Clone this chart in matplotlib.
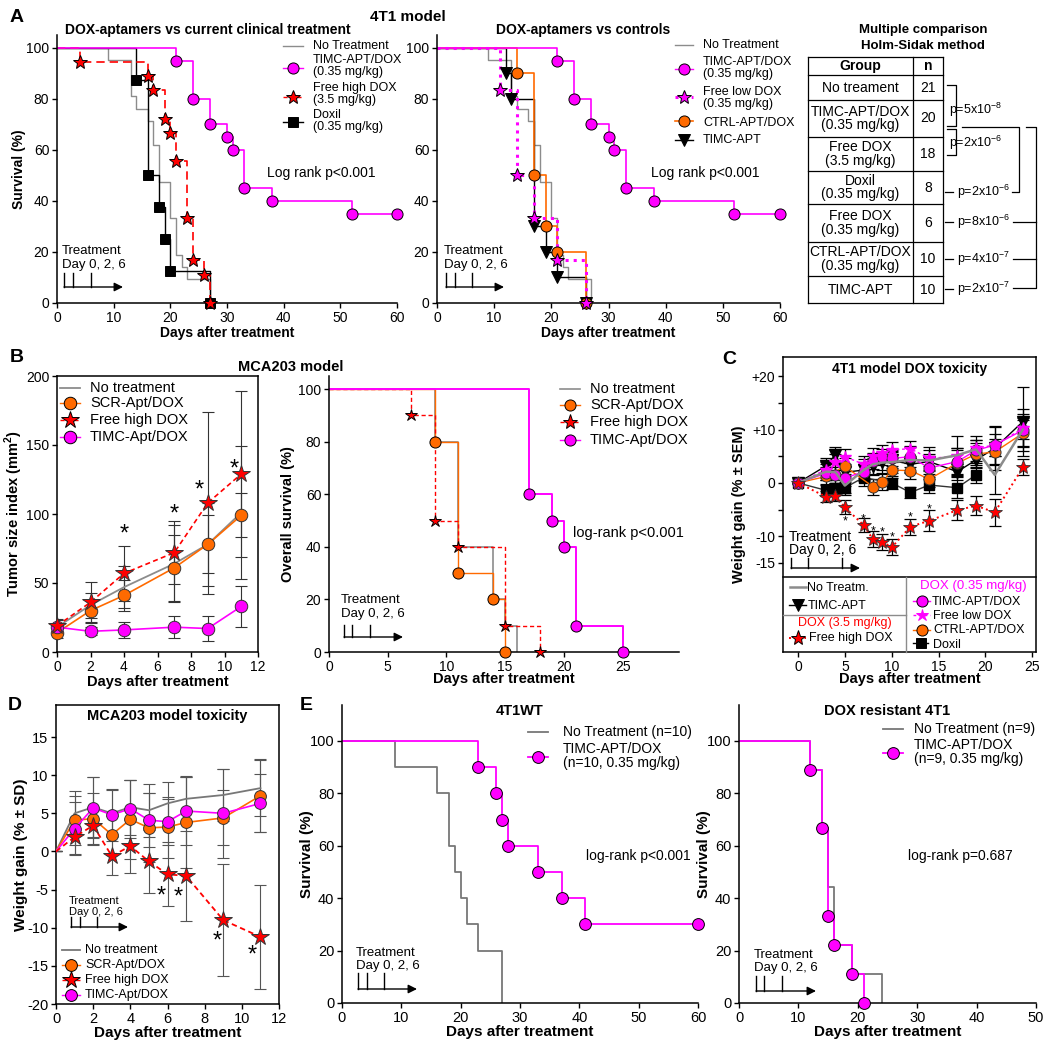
import matplotlib
matplotlib.use('Agg')
import matplotlib.pyplot as plt

plt.rcParams['font.family'] = 'Liberation Sans'
plt.rcParams['mathtext.fontset'] = 'custom'
plt.rcParams['mathtext.rm'] = 'Liberation Sans'
plt.rcParams['mathtext.bf'] = 'Liberation Sans:bold'
plt.rcParams['axes.unicode_minus'] = False
plt.rcParams['axes.linewidth'] = 1.1
plt.rcParams['xtick.major.width'] = 1.0
plt.rcParams['ytick.major.width'] = 1.0
plt.rcParams['xtick.major.pad'] = 2
plt.rcParams['ytick.major.pad'] = 2
plt.rcParams['xtick.labelsize'] = 10
plt.rcParams['ytick.labelsize'] = 10

MAG = '#ff00ff'
RED = '#ff0000'
ORA = '#ff6a00'
GRY = '#8c8c8c'

# ---- A: 4T1 survival ----
a_nt_days = [9, 13, 14, 16, 17, 18, 20, 21, 22, 23, 27]
a_nt_surv = [95.2, 81.0, 76.2, 71.4, 61.9, 47.6, 33.3, 19.0, 14.3, 9.5, 0]
a_timc_days = [21, 24, 27, 30, 31, 33, 38, 52, 60]
a_timc_surv = [95, 80, 70, 65, 60, 45, 40, 35, 35]
a_fhd_days = [4, 16, 17, 19, 20, 21, 23, 24, 26, 27]
a_fhd_surv = [94.4, 88.9, 83.3, 72.2, 66.7, 55.6, 33.3, 16.7, 11.1, 0]
a_doxil_days = [14, 16, 18, 19, 20, 27]
a_doxil_surv = [87.5, 50, 37.5, 25, 12.5, 0]
a_fld_days = [11, 14, 17, 21, 26]
a_fld_surv = [83.3, 50, 33.3, 16.7, 0]
a_ctrl_days = [14, 17, 19, 21, 26]
a_ctrl_surv = [90, 50, 30, 20, 0]
a_apt_days = [12, 13, 17, 19, 21, 26]
a_apt_surv = [90, 80, 30, 20, 10, 0]

tbl_groups = ['No treament', 'TIMC-APT/DOX\n(0.35 mg/kg)', 'Free DOX\n(3.5 mg/kg)',
              'Doxil\n(0.35 mg/kg)', 'Free DOX\n(0.35 mg/kg)', 'CTRL-APT/DOX\n(0.35 mg/kg)', 'TIMC-APT']
tbl_n = [21, 20, 18, 8, 6, 10, 10]
tbl_p = ['p=5x10$^{-8}$', 'p=2x10$^{-6}$', 'p=2x10$^{-6}$', 'p=8x10$^{-6}$',
         'p=4x10$^{-7}$', 'p=2x10$^{-7}$']

# ---- B: MCA203 ----
b_days = [0, 2, 4, 7, 9, 11]
b_nt = [18, 34, 47, 64, 78, 101]
b_nt_err = [5, 9, 15, 28, 30, 48]
b_scr = [14, 30, 41, 61, 78, 99]
b_scr_err = [4, 8, 11, 24, 21, 16]
b_fhd = [19, 36, 57, 72, 108, 129]
b_fhd_err = [5, 15, 20, 23, 66, 60]
b_timc = [18, 15, 16, 18, 17, 33]
b_timc_err = [5, 3, 6, 8, 9, 15]
b_star_x = [4, 7, 8.5, 10.6]
b_star_y = [90, 104, 122, 137]

bs_nt_days = [9, 11, 14, 15, 16]
bs_nt_surv = [80, 40, 20, 10, 0]
bs_scr_days = [9, 11, 14, 15]
bs_scr_surv = [80, 30, 20, 0]
bs_fhd_days = [7, 9, 11, 15, 18]
bs_fhd_surv = [90, 50, 40, 10, 0]
bs_timc_days = [17, 19, 20, 21, 25]
bs_timc_surv = [60, 50, 40, 10, 0]

# ---- C: 4T1 toxicity ----
c_days = [0, 3, 4, 5, 7, 8, 9, 10, 12, 14, 17, 19, 21, 24]
c_nt = [0, 2.1, 2.0, -0.5, 2.4, 3.5, 3.8, 3.9, 4.3, 4.2, 5.2, 6.3, 1.5, 10.0]
c_nt_err = [0, 1.5, 1.5, 1.8, 2.0, 2.0, 2.0, 2.0, 2.5, 2.5, 3.5, 2.5, 3.5, 3.0]
c_apt = [0, 3.2, 5.3, 2.0, 2.4, 3.2, 4.0, 4.2, 3.5, 4.0, 2.1, 4.3, 6.5, 11.5]
c_apt_err = [0, 1.5, 1.5, 1.5, 1.5, 1.5, 1.5, 1.5, 1.5, 1.5, 1.5, 1.5, 4.0, 6.5]
c_timc = [0, 1.8, 1.5, 0.9, 2.1, 4.1, 4.8, 4.6, 4.9, 2.8, 4.0, 6.1, 7.1, 9.9]
c_timc_err = [0, 1.2, 1.5, 1.5, 1.5, 1.5, 1.5, 1.5, 2.0, 2.0, 2.5, 2.0, 3.5, 4.0]
c_fld = [0, 2.5, 4.0, 4.9, 3.5, 5.0, 5.6, 6.2, 6.4, 4.6, 5.0, 6.5, 7.1, 10.2]
c_fld_err = [0, 1.5, 1.5, 1.5, 1.5, 1.5, 1.5, 1.5, 1.5, 1.5, 1.5, 1.5, 2.0, 2.0]
c_ctrl_days = [0, 3, 5, 8, 9, 10, 12, 14, 17, 19, 21, 24]
c_ctrl = [0, 1.2, 3.1, -0.7, 0.1, 2.4, 2.3, 0.7, 3.7, 5.4, 5.8, 9.3]
c_ctrl_err = [0, 1.5, 1.5, 1.5, 1.5, 1.5, 1.5, 1.5, 2.5, 2.0, 2.5, 2.5]
c_doxil_days = [0, 3, 4, 5, 7, 10, 12, 14, 17, 19]
c_doxil = [0, -1.4, -1.0, -0.9, 1.0, 0.0, -1.8, -0.4, -0.9, 1.5]
c_doxil_err = [0, 1.0, 1.0, 1.0, 1.5, 1.2, 1.0, 1.5, 2.0, 1.5]
c_fhd = [0, -2.6, -2.4, -4.6, -7.9, -10.6, -11.0, -12.1, -8.2, -7.1, -5.1, -4.3, -5.5, 2.9]
c_fhd_err = [0, 1.0, 1.0, 1.3, 1.3, 1.5, 1.5, 1.5, 1.5, 2.0, 1.8, 1.8, 2.5, 1.5]
c_star_x = [5, 7, 8, 9, 10, 12, 14]
c_star_y = [-6.7, -6.2, -8.4, -8.7, -9.7, -5.8, -4.3]

# ---- D: MCA203 toxicity ----
d_days = [0, 1, 2, 3, 4, 5, 6, 7, 9, 11]
d_nt = [0, 5.0, 5.8, 5.0, 5.8, 5.4, 6.3, 6.9, 7.4, 8.3]
d_nt_err = [0, 2.9, 3.9, 3.0, 3.6, 3.5, 2.8, 3.0, 3.4, 3.7]
d_scr = [0, 4.1, 4.3, 2.2, 4.2, 3.1, 3.2, 3.8, 4.4, 7.3]
d_scr_err = [0, 3.2, 3.4, 2.5, 5.2, 4.5, 4.0, 6.0, 3.6, 4.8]
d_fhd = [0, 1.9, 3.4, -0.6, 0.7, -1.3, -3.0, -3.2, -9.0, -11.2]
d_fhd_err = [0, 2.2, 2.4, 2.5, 3.5, 4.1, 4.2, 5.9, 7.3, 6.8]
d_timc = [0, 3.0, 5.7, 4.8, 5.6, 4.1, 3.9, 5.3, 5.0, 6.3]
d_timc_err = [0, 3.5, 4.0, 3.4, 3.8, 3.5, 3.0, 4.5, 5.8, 3.8]
d_star_x = [5.65, 6.6, 8.65, 10.55]
d_star_y = [-5.1, -5.2, -11.0, -12.8]

# ---- E: 4T1WT and DOX resistant ----
e1_nt_days = [9, 16, 18, 19, 20, 21, 23, 27]
e1_nt_surv = [90, 80, 60, 50, 40, 30, 20, 0]
e1_timc_days = [23, 26, 27, 28, 33, 37, 41, 60]
e1_timc_surv = [90, 80, 70, 60, 50, 40, 30, 30]
e2_nt_days = [12, 14, 15, 16, 19, 24]
e2_nt_surv = [88.9, 66.7, 44.4, 22.2, 11.1, 0]
e2_timc_days = [12, 14, 15, 16, 19, 21]
e2_timc_surv = [88.9, 66.7, 33.3, 22.2, 11.1, 0]

W, H = 1050, 1044
fig = plt.figure(figsize=(W / 100, H / 100), dpi=100)


def add_ax(x, y, w, h):
    return fig.add_axes([x / W, 1 - (y + h) / H, w / W, h / H])


def km(ax, days, surv, color, ls='-', lw=1.0, marker=None, ms=8, z=2):
    ax.step([0] + days, [100] + surv, where='post', color=color, ls=ls, lw=lw, zorder=z)
    if marker:
        ax.plot(days, surv, ls='none', marker=marker, ms=ms, mfc=color, mec='k',
                mew=0.7, zorder=z + 5, clip_on=False)


def open_axes(ax):
    ax.spines['top'].set_visible(False)
    ax.spines['right'].set_visible(False)


# A left
ax = add_ax(57, 35, 340, 268)
open_axes(ax)
km(ax, a_nt_days, a_nt_surv, GRY, lw=1.0)
km(ax, a_doxil_days, a_doxil_surv, 'k', lw=1.0, marker='s', ms=7.5)
km(ax, a_fhd_days, a_fhd_surv, RED, ls=(0, (5, 3)), lw=1.2, marker='*', ms=10)
km(ax, a_timc_days, a_timc_surv, MAG, lw=1.2, marker='o', ms=8)
ax.set_xlim(0, 60)
ax.set_ylim(0, 105)
ax.set_xticks(range(0, 61, 10))
ax.set_yticks(range(0, 101, 20))
ax.set_xlabel('Days after treatment', fontweight='bold', fontsize=10, labelpad=1)
ax.set_ylabel('Survival (%)', fontweight='bold', fontsize=10, labelpad=0)

# A middle
ax = add_ax(437, 35, 343, 268)
open_axes(ax)
km(ax, a_nt_days, a_nt_surv, GRY, lw=1.0)
km(ax, a_apt_days, a_apt_surv, 'k', lw=1.0, marker='v', ms=8)
km(ax, a_ctrl_days, a_ctrl_surv, ORA, lw=1.2)
km(ax, a_fld_days, a_fld_surv, MAG, ls=':', lw=2.2)
ax.plot(a_ctrl_days, a_ctrl_surv, ls='none', marker='o', ms=8, mfc=ORA, mec='k', mew=0.7, zorder=8, clip_on=False)
ax.plot(a_fld_days, a_fld_surv, ls='none', marker='*', ms=10, mfc=MAG, mec='k', mew=0.7, zorder=9, clip_on=False)
km(ax, a_timc_days, a_timc_surv, MAG, lw=1.2, marker='o', ms=8)
ax.set_xlim(0, 60)
ax.set_ylim(0, 105)
ax.set_xticks(range(0, 61, 10))
ax.set_yticks(range(0, 101, 20))
ax.set_xlabel('Days after treatment', fontweight='bold', fontsize=10, labelpad=1)

# B left
ax = add_ax(57, 376, 201, 276)
eb = dict(fmt='none', ecolor='#333333', elinewidth=0.8, capsize=4, capthick=0.8, zorder=1)
ax.errorbar(b_days, b_nt, yerr=b_nt_err, **eb)
ax.errorbar(b_days, b_scr, yerr=b_scr_err, **eb)
ax.errorbar(b_days, b_fhd, yerr=b_fhd_err, **eb)
ax.errorbar(b_days, b_timc, yerr=b_timc_err, **eb)
ax.plot(b_days, b_nt, color=GRY, lw=1.3, zorder=3)
ax.plot(b_days, b_scr, color=ORA, lw=1.2, marker='o', ms=9, mec='#333333', mew=0.7, zorder=4, clip_on=False)
ax.plot(b_days, b_fhd, color=RED, ls=(0, (3, 2)), lw=1.2, marker='*', ms=13, mfc=RED, mec='#333333', mew=0.7, zorder=5, clip_on=False)
ax.plot(b_days, b_timc, color=MAG, lw=1.2, marker='o', ms=9, mec='#333333', mew=0.7, zorder=4, clip_on=False)
for sx, sy in zip(b_star_x, b_star_y):
    ax.annotate('*', (sx, sy), xytext=(0, -9), textcoords='offset points', ha='center', va='baseline', fontsize=17)
ax.set_xlim(0, 12)
ax.set_ylim(0, 200)
ax.set_xticks(range(0, 13, 2))
ax.set_yticks(range(0, 201, 50))
ax.set_xlabel('Days after treatment', fontweight='bold', fontsize=10.5, labelpad=1)
ax.set_ylabel(r'Tumor size index (mm$^\mathbf{2}$)', fontweight='bold', fontsize=10.5, labelpad=1)

# B right
ax = add_ax(329, 376, 350, 276)
open_axes(ax)
km(ax, bs_nt_days, bs_nt_surv, GRY, lw=1.2)
km(ax, bs_scr_days, bs_scr_surv, ORA, lw=1.0, marker='o', ms=8)
km(ax, bs_fhd_days, bs_fhd_surv, RED, ls=(0, (3, 2)), lw=1.0, marker='*', ms=9)
km(ax, bs_timc_days, bs_timc_surv, MAG, lw=1.4, marker='o', ms=8)
ax.set_xlim(0, 29.8)
ax.set_ylim(0, 105)
ax.set_xticks(range(0, 26, 5))
ax.set_yticks(range(0, 101, 20))
ax.set_xlabel('Days after treatment', fontweight='bold', fontsize=10.5, labelpad=-1)
ax.set_ylabel('Overall survival (%)', fontweight='bold', fontsize=10.5, labelpad=2)

# C
ax = add_ax(783, 357, 253, 295)
ek = dict(fmt='none', ecolor='k', elinewidth=0.9, capsize=4, capthick=0.9, zorder=1)
ax.errorbar(c_days, c_nt, yerr=c_nt_err, **ek)
ax.errorbar(c_days, c_apt, yerr=c_apt_err, **ek)
ax.errorbar(c_days, c_timc, yerr=c_timc_err, **ek)
ax.errorbar(c_days, c_fld, yerr=c_fld_err, **ek)
ax.errorbar(c_ctrl_days, c_ctrl, yerr=c_ctrl_err, **ek)
ax.errorbar(c_doxil_days, c_doxil, yerr=c_doxil_err, **ek)
ax.errorbar(c_days, c_fhd, yerr=c_fhd_err, **ek)
ax.plot(c_doxil_days, c_doxil, color='#333333', lw=1.0, marker='s', ms=7, mfc='k', mec='k', zorder=3)
ax.plot(c_days, c_apt, color='k', lw=1.0, marker='v', ms=8, mfc='k', mec='k', zorder=3)
ax.plot(c_ctrl_days, c_ctrl, color=ORA, lw=1.0, marker='o', ms=8, mfc=ORA, mec='#333333', mew=0.7, zorder=4)
ax.plot(c_days, c_timc, color=MAG, lw=1.0, marker='o', ms=8, mfc=MAG, mec='#333333', mew=0.7, zorder=4)
ax.plot(c_days, c_fld, color=MAG, ls=(0, (2, 2)), lw=1.0, marker='*', ms=9, mfc=MAG, mec=MAG, zorder=5)
ax.plot(c_days, c_nt, color=GRY, lw=1.8, zorder=6)
ax.plot(c_days, c_fhd, color=RED, ls=':', lw=1.4, marker='*', ms=10, mfc=RED, mec='#333333', mew=0.6, zorder=6)
for sx, sy in zip(c_star_x, c_star_y):
    ax.annotate('*', (sx, sy), xytext=(0, -4.5), textcoords='offset points', ha='center', va='baseline', fontsize=9)
ax.set_xlim(-1.6, 25.4)
ax.set_ylim(-31.7, 23.6)
ax.set_xticks(range(0, 26, 5))
ax.set_yticks([20, 10, 0, -10, -15])
ax.set_yticklabels(['+20', '+10', '0', '-10', '-15'])
ax.set_yticks([15, 5, -5], minor=True)
ax.tick_params(axis='y', which='minor', length=3.5, width=1.0)
ax.set_title('4T1 model DOX toxicity', fontweight='bold', fontsize=10, y=0.955, va='top')
ax.set_xlabel('Days after treatment', fontweight='bold', fontsize=10.5, labelpad=-1)
ax.set_ylabel('Weight gain (% ± SEM)', fontweight='bold', fontsize=10.5, labelpad=4)

# D
ax = add_ax(56, 705, 223, 299)
eg = dict(fmt='none', ecolor='#555555', elinewidth=0.8, capsize=4, capthick=0.8, zorder=1)
ax.errorbar(d_days, d_nt, yerr=d_nt_err, **eg)
ax.errorbar(d_days, d_scr, yerr=d_scr_err, **eg)
ax.errorbar(d_days, d_fhd, yerr=d_fhd_err, **eg)
ax.errorbar(d_days, d_timc, yerr=d_timc_err, **eg)
ax.plot(d_days, d_nt, color='#777777', lw=1.3, zorder=3)
ax.plot(d_days, d_scr, color=ORA, lw=1.2, marker='o', ms=8.5, mec='#333333', mew=0.7, zorder=4, markevery=list(range(1, 10)))
ax.plot(d_days, d_timc, color=MAG, lw=1.2, marker='o', ms=8.5, mec='#333333', mew=0.7, zorder=4, markevery=list(range(1, 10)))
ax.plot(d_days, d_fhd, color=RED, ls=(0, (3, 2)), lw=1.3, marker='*', ms=13, mfc=RED, mec='#333333', mew=0.7, zorder=5, markevery=list(range(1, 10)))
for sx, sy in zip(d_star_x, d_star_y):
    ax.annotate('*', (sx, sy), xytext=(0, -9), textcoords='offset points', ha='center', va='baseline', fontsize=17)
ax.set_xlim(0, 12)
ax.set_ylim(-20, 19.2)
ax.set_xticks(range(0, 13, 2))
ax.set_yticks(range(-20, 16, 5))
ax.tick_params(labelsize=10.5)
ax.set_title('MCA203 model toxicity', fontweight='bold', fontsize=10.5, y=0.96, va='top')
ax.set_xlabel('Days after treatment', fontweight='bold', fontsize=11, labelpad=0)
ax.set_ylabel('Weight gain (% ± SD)', fontweight='bold', fontsize=11, labelpad=-1)

# E left
ax = add_ax(342, 705, 356, 298)
open_axes(ax)
km(ax, e1_nt_days, e1_nt_surv, '#777777', lw=1.3)
km(ax, e1_timc_days, e1_timc_surv, MAG, lw=1.3, marker='o', ms=8.5)
ax.set_xlim(0, 60)
ax.set_ylim(0, 113.7)
ax.set_xticks(range(0, 61, 10))
ax.set_yticks(range(0, 101, 20))
ax.tick_params(labelsize=10.5)
ax.set_title('4T1WT', fontweight='bold', fontsize=10.5, y=0.975, va='top')
ax.set_xlabel('Days after treatment', fontweight='bold', fontsize=11, labelpad=0)
ax.set_ylabel('Survival (%)', fontweight='bold', fontsize=11, labelpad=-3)

# E right
ax = add_ax(739, 705, 297, 298)
open_axes(ax)
km(ax, e2_nt_days, e2_nt_surv, '#777777', lw=1.3)
km(ax, e2_timc_days, e2_timc_surv, MAG, lw=1.3, marker='o', ms=8.5)
ax.set_xlim(0, 50)
ax.set_ylim(0, 113.7)
ax.set_xticks(range(0, 51, 10))
ax.set_yticks(range(0, 101, 20))
ax.tick_params(labelsize=10.5)
ax.set_title('DOX resistant 4T1', fontweight='bold', fontsize=10.5, y=0.975, va='top')
ax.set_xlabel('Days after treatment', fontweight='bold', fontsize=11, labelpad=0)
ax.set_ylabel('Survival (%)', fontweight='bold', fontsize=11, labelpad=-3)

# ---- overlay in pixel coordinates: titles, legends, table, annotations ----
ov = fig.add_axes([0, 0, 1, 1], facecolor='none')
ov.set_xlim(0, W)
ov.set_ylim(H, 0)
ov.axis('off')


def txt(x, y, s, **kw):
    kw.setdefault('va', 'center')
    kw.setdefault('fontsize', 9)
    ov.text(x, y, s, **kw)


def leg(x0, x1, y, color, ls='-', lw=1.0, marker=None, ms=8, mfc=None, mec='k'):
    ov.plot([x0, x1], [y, y], color=color, ls=ls, lw=lw)
    if marker:
        ov.plot([(x0 + x1) / 2], [y], marker=marker, ms=ms, mfc=mfc or color, mec=mec, mew=0.7)


def treatment(x0, y1, y2, ya, ticks, xend, ytop, fs=9.5):
    txt(x0 - 2, y1, 'Treatment', fontsize=fs)
    txt(x0 - 2, y2, 'Day 0, 2, 6', fontsize=fs)
    ov.annotate('', xy=(xend, ya), xytext=(ticks[0], ya),
                arrowprops=dict(arrowstyle='-|>', color='k', lw=1.0, mutation_scale=13, shrinkA=0, shrinkB=0))
    for t in ticks:
        ov.plot([t, t], [ya, ytop], color='k', lw=1.0)


# panel letters and titles
for lt, lx, ly in [('A', 10, 18), ('B', 10, 358), ('C', 722, 360), ('D', 8, 705), ('E', 300, 705)]:
    txt(lx, ly, lt, fontsize=14, fontweight='bold')
txt(408, 17, '4T1 model', fontsize=11, fontweight='bold', ha='center')
txt(208, 30, 'DOX-aptamers vs current clinical treatment', fontsize=10, fontweight='bold', ha='center')
txt(583, 30, 'DOX-aptamers vs controls', fontsize=10, fontweight='bold', ha='center')
txt(291, 367, 'MCA203 model', fontsize=10.5, fontweight='bold', ha='center')

# A left legend
leg(283, 303, 46, GRY)
txt(313, 46, 'No Treatment')
leg(283, 303, 68, MAG, marker='o', ms=8)
txt(313, 66, 'TIMC-APT/DOX\n(0.35 mg/kg)', linespacing=0.95)
leg(283, 303, 97, RED, ls=(0, (3, 2)), marker='*', ms=10)
txt(313, 94, 'Free high DOX\n(3.5 mg/kg)', linespacing=0.95)
leg(283, 303, 122, 'k', marker='s', ms=7.5)
txt(313, 121, 'Doxil\n(0.35 mg/kg)', linespacing=0.95)
txt(267, 173, 'Log rank p<0.001', fontsize=10)

# A middle legend
leg(675, 693, 45, GRY)
txt(703, 45, 'No Treatment')
leg(675, 693, 69, MAG, marker='o', ms=8)
txt(703, 68, 'TIMC-APT/DOX\n(0.35 mg/kg)', linespacing=0.95)
leg(675, 693, 97, MAG, ls=':', lw=2.2, marker='*', ms=10)
txt(703, 98, 'Free low DOX\n(0.35 mg/kg)', linespacing=0.95)
leg(675, 693, 121, ORA, lw=1.2, marker='o', ms=8)
txt(703, 123, 'CTRL-APT/DOX')
leg(675, 693, 140, 'k', marker='v', ms=8)
txt(703, 140, 'TIMC-APT')
txt(651, 173, 'Log rank p<0.001', fontsize=10)

# treatment arrows
treatment(64, 251, 265, 287, [64, 73, 91], 123, 273)
treatment(446, 251, 265, 287, [446, 455, 472], 504, 273)
treatment(343, 600, 614, 637, [344, 352, 370], 403, 625)
treatment(791, 537, 550, 568, [791, 808, 842], 860, 558, fs=10)
treatment(71, 901, 912, 927, [71, 80, 97], 128, 917, fs=8)
treatment(358, 953, 966, 989, [358, 367, 384], 417, 973)
treatment(756, 955, 968, 991, [756, 764, 782], 816, 976)

# table
txt(923, 30, 'Multiple comparison', fontsize=9.5, fontweight='bold', ha='center')
txt(923, 46, 'Holm-Sidak method', fontsize=9.5, fontweight='bold', ha='center')
rows_y = [57, 75, 100, 137, 171, 204, 242, 276, 303]
for ry in rows_y:
    ov.plot([808, 943], [ry, ry], color='k', lw=0.9)
for cx in [808, 913, 943]:
    ov.plot([cx, cx], [57, 303], color='k', lw=0.9)
txt(860, 66, 'Group', fontsize=10, fontweight='bold', ha='center')
txt(928, 66, 'n', fontsize=10, fontweight='bold', ha='center')
for i, (g, n) in enumerate(zip(tbl_groups, tbl_n)):
    cy = (rows_y[i + 1] + rows_y[i + 2]) / 2
    txt(860, cy, g, fontsize=10, ha='center', linespacing=0.92)
    txt(928, cy, str(n), fontsize=10, ha='center')
# brackets
ov.plot([947, 956, 956, 947], [85, 85, 126, 126], color='k', lw=0.9)
ov.plot([947, 956, 956, 947], [129, 129, 155, 155], color='k', lw=0.9)
ov.plot([962, 1019, 1019, 1012], [127, 127, 192, 192], color='k', lw=0.9)
ov.plot([1026, 1036, 1036, 1013], [127, 127, 288, 288], color='k', lw=0.9)
ov.plot([1013, 1036], [222, 222], color='k', lw=0.9)
ov.plot([1013, 1036], [259, 259], color='k', lw=0.9)
txt(949, 110, tbl_p[0], fontsize=9)
txt(949, 143, tbl_p[1], fontsize=9)
for py, lab in zip([192, 222, 259, 289], tbl_p[2:]):
    ov.plot([945, 953], [py, py], color='k', lw=0.9)
    txt(957, py, lab, fontsize=9)

# B legends
leg(60, 80, 388, GRY, lw=1.3)
txt(90, 388, 'No treatment', fontsize=10.5)
leg(60, 80, 403, ORA, marker='o', ms=9)
txt(90, 403, 'SCR-Apt/DOX', fontsize=10.5)
leg(60, 80, 420, RED, ls=(0, (3, 2)), marker='*', ms=13)
txt(90, 420, 'Free high DOX', fontsize=10.5)
leg(60, 80, 437, MAG, marker='o', ms=9)
txt(90, 437, 'TIMC-Apt/DOX', fontsize=10.5)

leg(560, 580, 389, GRY, lw=1.2)
txt(590, 389, 'No treatment', fontsize=10.5)
leg(560, 580, 405, ORA, marker='o', ms=8)
txt(590, 405, 'SCR-Apt/DOX', fontsize=10.5)
leg(560, 580, 422, RED, ls=(0, (3, 2)), marker='*', ms=11)
txt(590, 422, 'Free high DOX', fontsize=10.5)
leg(560, 580, 440, MAG, marker='o', ms=8)
txt(590, 440, 'TIMC-Apt/DOX', fontsize=10.5)
txt(573, 533, 'log-rank p<0.001', fontsize=10.5)

# C legend box
ov.plot([783, 1036], [577, 577], color='k', lw=1.1)
ov.plot([906, 906], [577, 652], color=GRY, lw=1.0)
ov.plot([783, 906], [615, 615], color=GRY, lw=1.0)
leg(790, 806, 587, GRY, lw=1.8)
txt(807, 588, 'No Treatm.', fontsize=9)
leg(789, 806, 605, 'k', marker='v', ms=9)
txt(808, 606, 'TIMC-APT', fontsize=9)
txt(845, 623, 'DOX (3.5 mg/kg)', fontsize=9, color=RED, ha='center')
leg(789, 806, 638, RED, ls=':', lw=1.4, marker='*', ms=11)
txt(809, 638, 'Free high DOX', fontsize=9)
txt(973, 586, 'DOX (0.35 mg/kg)', fontsize=9.5, color=MAG, ha='center')
leg(913, 930, 601, MAG, marker='o', ms=8)
txt(932, 602, 'TIMC-APT/DOX', fontsize=9)
leg(913, 930, 615, MAG, ls=(0, (2, 2)), marker='*', ms=9, mec=MAG)
txt(933, 616, 'Free low DOX', fontsize=9)
leg(913, 930, 630, ORA, marker='o', ms=8)
txt(933, 630, 'CTRL-APT/DOX', fontsize=9)
leg(913, 928, 643, 'k', marker='s', ms=7)
txt(933, 645, 'Doxil', fontsize=9)

# D legend
leg(62, 80, 950, '#777777', lw=1.3)
txt(85, 950, 'No treatment', fontsize=9)
leg(62, 80, 965, ORA, marker='o', ms=8.5)
txt(85, 965, 'SCR-Apt/DOX', fontsize=9)
leg(62, 80, 980, RED, ls=(0, (3, 2)), marker='*', ms=13)
txt(85, 980, 'Free high DOX', fontsize=9)
leg(62, 80, 995, MAG, marker='o', ms=8.5)
txt(85, 995, 'TIMC-Apt/DOX', fontsize=9)

# E legends
leg(528, 548, 732, '#777777', lw=1.3)
txt(563, 732, 'No Treatment (n=10)', fontsize=10)
leg(528, 548, 757, MAG, lw=1.3, marker='o', ms=8.5)
txt(563, 756, 'TIMC-APT/DOX\n(n=10, 0.35 mg/kg)', fontsize=10, linespacing=0.95)
txt(586, 856, 'log-rank p<0.001', fontsize=10)

leg(883, 903, 729, '#777777', lw=1.3)
txt(914, 729, 'No Treatment (n=9)', fontsize=10)
leg(883, 903, 753, MAG, lw=1.3, marker='o', ms=8.5)
txt(914, 752, 'TIMC-APT/DOX\n(n=9, 0.35 mg/kg)', fontsize=10, linespacing=0.95)
txt(908, 856, 'log-rank p=0.687', fontsize=10)

fig.savefig('out.png', dpi=100)
